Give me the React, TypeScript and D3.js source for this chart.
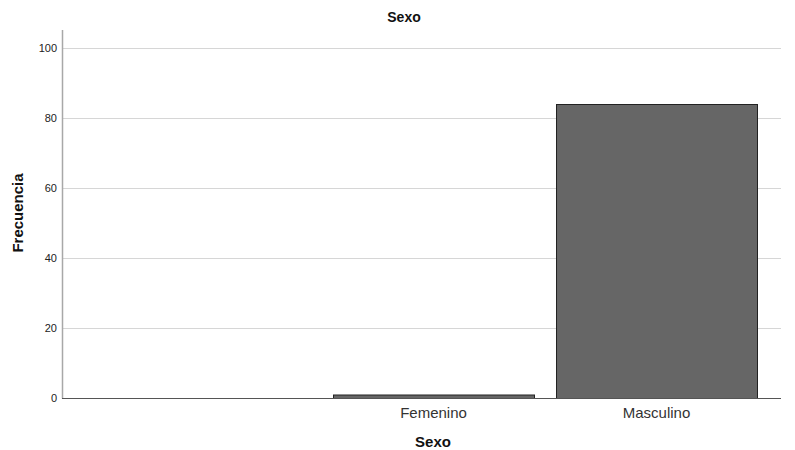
import React, { useEffect, useRef } from 'react';
import * as d3 from 'd3';

const categories = ['', 'Femenino', 'Masculino'];
const counts = [0, 1, 84];
const yTicks = [0, 20, 40, 60, 80, 100];

const W = 795;
const H = 450;

const App: React.FC = () => {
  const svgRef = useRef<SVGSVGElement>(null);

  useEffect(() => {
    if (!svgRef.current) return;
    const svg = d3.select(svgRef.current);
    svg.selectAll('*').remove();

    const left = 62;
    const right = 781;
    const top = 30;
    const bottom = 398;
    const font = 'Arial, "Liberation Sans", sans-serif';

    const y = d3.scaleLinear().domain([0, 100]).range([bottom, 48]);
    const x = d3.scaleBand<string>()
      .domain(categories)
      .range([110, 757])
      .paddingInner(0.0987)
      .paddingOuter(0);

    // gridlines
    svg.append('g')
      .selectAll('line')
      .data(yTicks.filter(t => t > 0))
      .join('line')
      .attr('x1', left)
      .attr('x2', right)
      .attr('y1', d => y(d) + 0.5)
      .attr('y2', d => y(d) + 0.5)
      .attr('stroke', '#d6d6d6')
      .attr('stroke-width', 1.2);

    // tick labels
    svg.append('g')
      .selectAll('text')
      .data(yTicks)
      .join('text')
      .attr('x', left - 5)
      .attr('y', d => y(d) + 4)
      .attr('text-anchor', 'end')
      .style('font-family', font)
      .style('font-size', '11px')
      .style('fill', '#222')
      .text(d => d);

    // bars
    svg.append('g')
      .selectAll('rect')
      .data(categories.map((c, i) => ({ c, v: counts[i] })).filter(d => d.v > 0))
      .join('rect')
      .attr('x', d => x(d.c)! + 0.5)
      .attr('y', d => y(d.v) + 0.5)
      .attr('width', x.bandwidth())
      .attr('height', d => y(0) - y(d.v))
      .attr('fill', '#666666')
      .attr('stroke', '#222')
      .attr('stroke-width', 1);

    // axes lines
    svg.append('line')
      .attr('x1', left + 0.5).attr('x2', left + 0.5)
      .attr('y1', top).attr('y2', bottom + 0.5)
      .attr('stroke', '#a8a8a8').attr('stroke-width', 1.5);
    svg.append('line')
      .attr('x1', left).attr('x2', right)
      .attr('y1', bottom + 0.5).attr('y2', bottom + 0.5)
      .attr('stroke', '#555').attr('stroke-width', 1);

    // category labels
    svg.append('g')
      .selectAll('text')
      .data(categories)
      .join('text')
      .attr('x', d => x(d)! + x.bandwidth() / 2)
      .attr('y', 418)
      .attr('text-anchor', 'middle')
      .style('font-family', font)
      .style('font-size', '15px')
      .style('fill', '#333')
      .text(d => d);

    // titles
    svg.append('text')
      .attr('x', 404).attr('y', 22)
      .attr('text-anchor', 'middle')
      .style('font-family', font)
      .style('font-size', '14px')
      .style('font-weight', 'bold')
      .style('fill', '#111')
      .text('Sexo');

    svg.append('text')
      .attr('x', 433).attr('y', 447)
      .attr('text-anchor', 'middle')
      .style('font-family', font)
      .style('font-size', '15px')
      .style('font-weight', 'bold')
      .style('fill', '#111')
      .text('Sexo');

    svg.append('text')
      .attr('transform', 'translate(23, 213) rotate(-90)')
      .attr('text-anchor', 'middle')
      .style('font-family', font)
      .style('font-size', '15px')
      .style('font-weight', 'bold')
      .style('fill', '#111')
      .text('Frecuencia');
  }, []);

  return (
    <svg
      ref={svgRef}
      width={W}
      height={H}
      style={{ position: 'absolute', left: 0, top: 0, background: '#fff' }}
    />
  );
};

export default App;
